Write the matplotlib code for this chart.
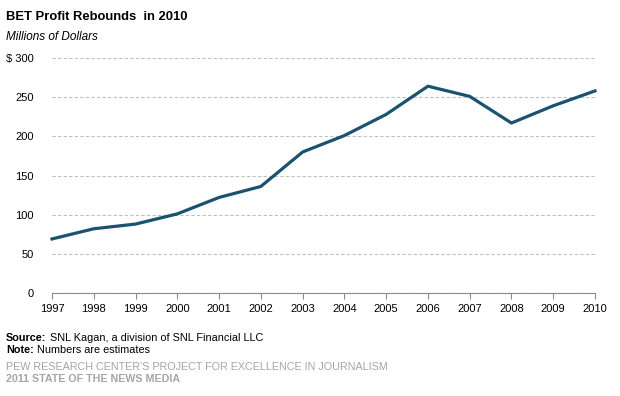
import matplotlib
matplotlib.use('Agg')
from matplotlib import pyplot as plt

plt.rcParams['font.family'] = ['Liberation Sans', 'DejaVu Sans']

# BET profit, millions of dollars (estimates)
years = [1997, 1998, 1999, 2000, 2001, 2002, 2003, 2004, 2005, 2006, 2007, 2008, 2009, 2010]
profit = [69, 82, 88, 101, 122, 136, 180, 201, 228, 264, 251, 217, 239, 258]
yticks = [0, 50, 100, 150, 200, 250, 300]
ytick_labels = ['0', '50', '100', '150', '200', '250', '$ 300']

W, H = 620, 396
fig = plt.figure(figsize=(W / 100, H / 100), dpi=100)
ax = fig.add_axes([52 / W, 1 - 293 / H, (595 - 52) / W, (293 - 58) / H])

ax.plot(years, profit, color='#1b5270', lw=2.3, clip_on=False, zorder=3)

ax.set_xlim(years[0], years[-1])
ax.set_ylim(0, 300)
ax.set_xticks(years)
ax.set_xticklabels([str(y) for y in years], fontsize=8)
ax.set_yticks(yticks)
ax.set_yticklabels(ytick_labels, fontsize=8)
ax.grid(axis='y', color='#bfbfbf', ls=(0, (3, 2)), lw=0.8)
ax.set_axisbelow(True)
for s in ['top', 'right', 'left']:
    ax.spines[s].set_visible(False)
ax.spines['bottom'].set_color('#8c8c8c')
ax.tick_params(axis='x', direction='out', length=4, color='#8c8c8c', pad=4)
ax.tick_params(axis='y', length=0, pad=13)


def label_line(y, bold, rest, size=7.8):
    t = fig.text(6 / W, 1 - y / H, bold, fontsize=size, fontweight='bold', va='center')
    fig.text(0, 0, '')
    ax.annotate(rest, xy=(1, 0.5), xycoords=t, xytext=(2.5, 0), textcoords='offset points',
                fontsize=size, va='center', annotation_clip=False)


fig.text(6 / W, 1 - 17 / H, 'BET Profit Rebounds  in 2010', fontsize=9.4, fontweight='bold', va='center')
fig.text(6 / W, 1 - 37 / H, 'Millions of Dollars', fontsize=8.5, style='italic', va='center')

label_line(338, 'Source:', 'SNL Kagan, a division of SNL Financial LLC')
label_line(350, 'Note:', 'Numbers are estimates')
fig.text(6 / W, 1 - 367 / H, "PEW RESEARCH CENTER'S PROJECT FOR EXCELLENCE IN JOURNALISM", fontsize=7.75, color='#a6a6a6', va='center')
fig.text(6 / W, 1 - 379 / H, '2011 STATE OF THE NEWS MEDIA', fontsize=7.7, fontweight='bold', color='#a6a6a6', va='center')

fig.savefig('out.png', dpi=100)
